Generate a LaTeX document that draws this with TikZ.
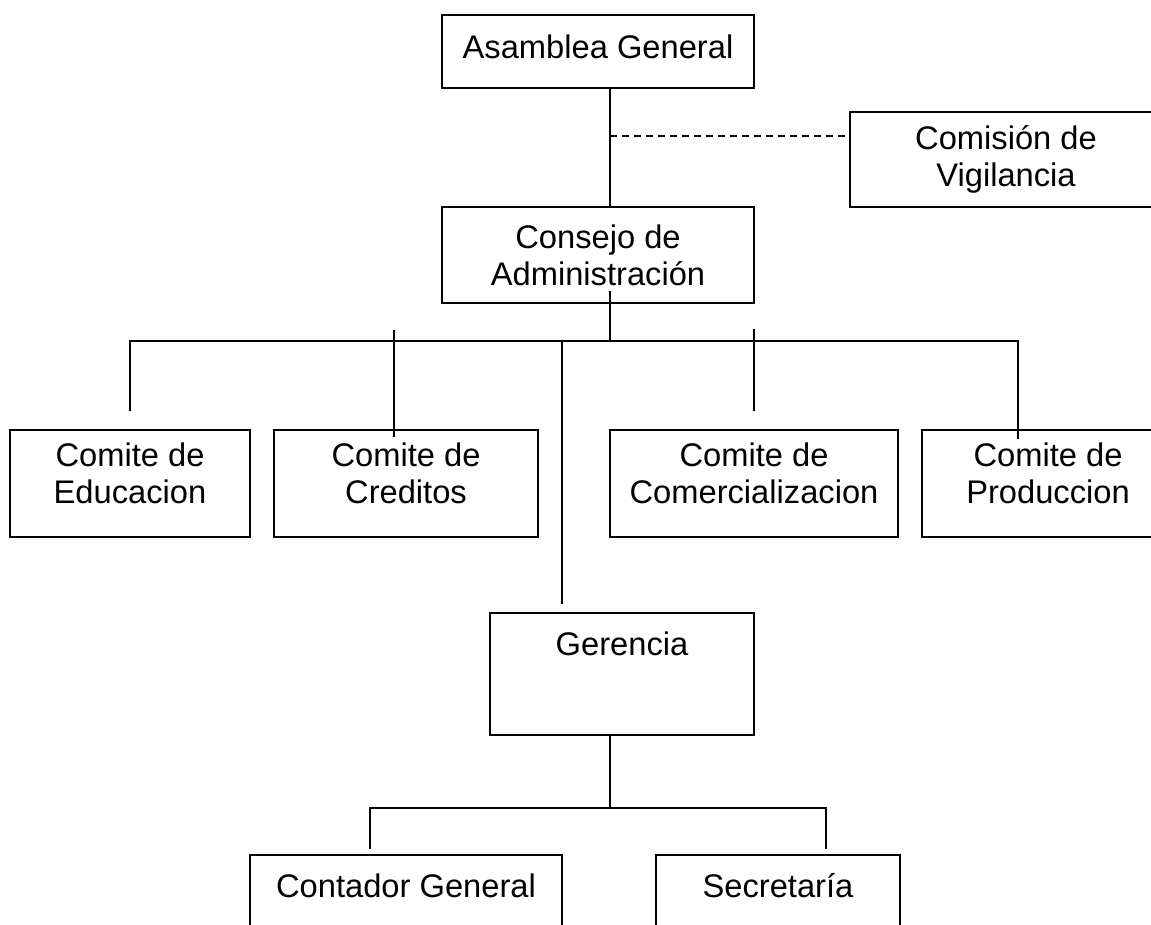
\documentclass[tikz,border=0pt]{standalone}
\usepackage{fontspec}
\setmainfont{Liberation Sans}
\usetikzlibrary{calc}

\begin{document}
\begin{tikzpicture}[x=0.02cm,y=-0.02cm,line width=1.1pt,
  caja/.style={draw,align=center,inner sep=0pt,font=\fontsize{18.6}{21}\selectfont},
  punteada/.style={dash pattern=on 0.14cm off 0.1cm}]
\clip (0,0) rectangle (1151,924);
\node[caja,minimum width=6.24cm,minimum height=1.46cm] (asamblea) at (598,51.5) {Asamblea General\\[-15pt]\mbox{}};
\node[caja,minimum width=6.24cm,minimum height=1.9cm] (comision) at (1006,159.5) {Comisión de\\Vigilancia};
\node[caja,minimum width=6.24cm,minimum height=1.92cm] (consejo) at (598,255) {Consejo de\\Administración};
\node[caja,minimum width=4.8cm,minimum height=2.14cm] (educ) at (130,483.5) {Comite de\\Educacion\\[-9pt]\mbox{}};
\node[caja,minimum width=5.28cm,minimum height=2.14cm] (cred) at (406,483.5) {Comite de\\Creditos\\[-9pt]\mbox{}};
\node[caja,minimum width=5.76cm,minimum height=2.14cm] (comer) at (754,483.5) {Comite de\\Comercializacion\\[-9pt]\mbox{}};
\node[caja,minimum width=5.04cm,minimum height=2.14cm] (prod) at (1048,483.5) {Comite de\\Produccion\\[-9pt]\mbox{}};
\node[caja,minimum width=5.28cm,minimum height=2.44cm] (gerencia) at (622,674) {Gerencia\\[14pt]\mbox{}};
\node[caja,minimum width=6.24cm,minimum height=2.44cm] (contador) at (406,916) {Contador General\\[14pt]\mbox{}};
\node[caja,minimum width=4.88cm,minimum height=2.44cm] (secre) at (778,916) {Secretaría\\[14pt]\mbox{}};
\coordinate (eje) at (610,341);
\coordinate (vig) at (610,136);
\coordinate (busizq) at (130,341);
\coordinate (busder) at (1018,341);
\coordinate (cr) at (394,330);
\coordinate (ger) at (562,341);
\coordinate (ci) at (370,808);
\coordinate (cd) at (826,808);
\draw (asamblea.south -| eje) -- (consejo.north -| eje);
\draw[punteada] (vig) -- (vig -| comision.west);
\draw ($(consejo.south -| eje)+(0,-13)$) -- (eje);
\draw ($(educ.north)+(0,-18)$) -- (busizq) -- (busder) -- ($(busder |- prod.north)+(0,10)$);
\draw (cr) -- ($(cr |- cred.north)+(0,8)$);
\draw ($(comer.north)+(0,-100)$) -- ($(comer.north)+(0,-18)$);
\draw (ger) -- ($(ger |- gerencia.north)+(0,-8)$);
\draw (gerencia.south -| eje) -- (ci -| eje);
\draw ($(ci |- contador.north)+(0,-5)$) -- (ci) -- (cd) -- ($(cd |- secre.north)+(0,-5)$);
\end{tikzpicture}
\end{document}
